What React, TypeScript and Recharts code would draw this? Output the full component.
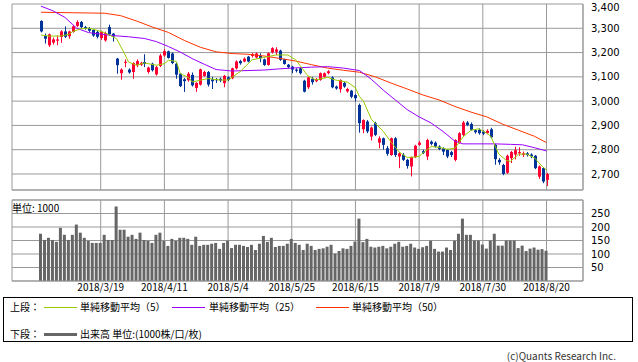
import React from 'react';
import { ComposedChart, Bar, Line, XAxis, YAxis, CartesianGrid, ReferenceLine } from 'recharts';

const tickIndices = [15, 31, 47, 63, 79, 95, 111, 127];
const tickLabels = ['2018/3/19', '2018/4/11', '2018/5/4', '2018/5/25', '2018/6/15', '2018/7/9', '2018/7/30', '2018/8/20'];
const priceTicks = [2700, 2800, 2900, 3000, 3100, 3200, 3300, 3400];
const volumeTicks = [50, 100, 150, 200, 250];

const opens = [
  3330,3268,3230,3241,3249,3264,3287,3267,3285,3310,
  3326,3305,3300,3293,3285,3260,3250,3305,3278,3175,
  3115,3158,3130,3120,3148,3150,3161,3120,3154,3110,
  3145,3188,3205,3196,3154,3113,3090,3086,3108,3054,
  3068,3104,3120,3090,3090,3092,3074,3098,3094,3135,
  3165,3163,3183,3186,3180,3186,3172,3149,3201,3203,
  3208,3172,3150,3142,3130,3135,3084,3057,3092,3082,
  3087,3100,3115,3098,3060,3049,3075,3040,3043,3025,
  2984,2884,2916,2854,2909,2829,2847,2806,2778,2847,
  2772,2779,2758,2731,2769,2820,2794,2772,2833,2829,
  2813,2806,2799,2790,2758,2829,2861,2912,2906,2880,
  2882,2875,2868,2884,2820,2758,2737,2705,2765,2780,
  2785,2778,2785,2780,2775,2689,2724,2676,
];
const closes = [
  3287,3257,3275,3254,3254,3287,3265,3287,3308,3326,
  3305,3298,3290,3270,3265,3285,3280,3275,3266,3148,
  3130,3162,3118,3157,3165,3158,3153,3138,3127,3140,
  3188,3206,3178,3157,3109,3062,3082,3113,3065,3075,
  3131,3120,3068,3082,3086,3085,3104,3087,3135,3163,
  3156,3175,3163,3193,3196,3177,3149,3197,3218,3213,
  3170,3153,3140,3130,3125,3115,3039,3098,3078,3090,
  3115,3115,3123,3057,3052,3087,3060,3050,3018,3012,
  2909,2922,2875,2891,2861,2847,2820,2783,2847,2778,
  2785,2758,2733,2769,2816,2829,2787,2840,2824,2813,
  2803,2792,2772,2778,2840,2868,2912,2902,2882,2872,
  2868,2866,2878,2851,2761,2748,2700,2775,2790,2798,
  2790,2785,2778,2772,2724,2731,2669,2700,
];
const highs = [
  3333,3278,3278,3262,3271,3292,3308,3290,3313,3333,
  3330,3310,3305,3296,3290,3290,3286,3315,3280,3178,
  3135,3172,3135,3160,3172,3162,3193,3142,3158,3145,
  3195,3215,3208,3201,3158,3116,3095,3120,3118,3078,
  3134,3125,3124,3100,3095,3097,3108,3102,3138,3168,
  3170,3180,3186,3198,3200,3197,3175,3200,3222,3222,
  3212,3175,3153,3145,3135,3138,3088,3100,3100,3095,
  3118,3118,3128,3102,3064,3090,3080,3055,3046,3030,
  2990,2925,2922,2895,2915,2855,2850,2815,2850,2852,
  2790,2786,2762,2772,2820,2836,2800,2845,2838,2834,
  2818,2810,2803,2795,2843,2872,2918,2918,2912,2885,
  2888,2880,2884,2890,2824,2765,2742,2780,2795,2812,
  2810,2792,2790,2785,2778,2735,2727,2705,
];
const lows = [
  3283,3237,3223,3233,3230,3240,3260,3257,3282,3305,
  3300,3294,3285,3265,3258,3252,3245,3270,3245,3113,
  3088,3140,3113,3092,3140,3145,3140,3113,3122,3105,
  3140,3183,3175,3152,3092,3058,3038,3080,3060,3038,
  3064,3100,3060,3050,3075,3078,3057,3082,3090,3130,
  3150,3160,3160,3180,3176,3160,3145,3146,3196,3190,
  3166,3150,3135,3115,3118,3110,3036,3050,3068,3078,
  3084,3096,3110,3053,3047,3035,3055,3035,3012,2998,
  2870,2868,2868,2838,2856,2806,2800,2775,2775,2770,
  2724,2754,2722,2690,2765,2816,2782,2757,2818,2808,
  2798,2778,2765,2770,2752,2825,2856,2897,2878,2866,
  2862,2860,2864,2846,2738,2738,2695,2700,2745,2760,
  2775,2770,2772,2765,2720,2680,2662,2650,
];
const volumes = [
  175,152,160,152,145,197,171,152,171,209,
  179,160,149,141,141,141,171,152,152,276,
  190,190,164,171,156,179,152,149,141,171,
  179,149,130,156,149,160,160,156,134,164,
  130,134,134,138,141,119,141,149,122,134,
  134,130,126,134,115,138,167,145,160,126,
  130,130,138,156,141,134,115,138,130,115,
  119,121,127,134,102,111,121,119,130,146,
  231,144,156,127,124,127,130,121,127,138,
  145,127,130,138,124,119,125,130,149,119,
  109,109,124,115,149,175,231,171,171,150,
  150,135,120,150,175,131,131,150,150,150,
  122,131,111,120,124,116,118,112,
];

const ma5Idx = [0,2,5,7,8,10,12,14,16,17,19,21,22,24,26,29,31,32,34,35,37,38,40,42,45,47,50,53,56,59,62,64,67,69,72,74,77,79,80,81,83,86,88,90,92,94,95,97,98,100,102,104,106,108,110,112,113,115,117,118,120,122,124,126,127];
const ma5Val = [3272,3268,3268,3275,3287,3298,3301,3292,3282,3274,3257,3195,3161,3148,3157,3148,3154,3168,3164,3113,3098,3079,3086,3093,3087,3087,3121,3170,3180,3190,3190,3170,3105,3087,3098,3087,3078,3055,3019,3000,2925,2875,2830,2790,2768,2770,2773,2800,2813,2810,2802,2806,2852,2880,2886,2868,2855,2782,2755,2752,2782,2782,2766,2730,2717];
const ma25Idx = [0,3,6,9,12,15,18,22,26,29,32,35,38,41,44,48,52,56,60,64,68,72,76,80,83,86,89,92,95,98,101,104,106,110,114,118,121,124,127];
const ma25Val = [3391,3372,3345,3300,3282,3276,3270,3265,3258,3245,3225,3202,3175,3152,3130,3124,3126,3128,3133,3137,3140,3142,3136,3126,3090,3045,3005,2965,2935,2910,2875,2835,2824,2824,2824,2822,2820,2808,2795];
const ma50Idx = [0,8,16,20,24,28,32,36,40,44,48,52,56,60,64,68,72,76,80,84,88,92,96,100,104,108,112,116,120,124,127];
const ma50Val = [3366,3364,3362,3352,3330,3305,3283,3250,3222,3203,3196,3193,3186,3176,3165,3150,3136,3127,3119,3100,3074,3050,3025,3005,2978,2955,2935,2905,2880,2855,2829];

const RED = '#ff0033';
const BLUE = '#003399';
const C5 = '#99cc00';
const C25 = '#9900ff';
const C50 = '#ff3300';
const GRID = '#999999';
const FONT = "'Noto Sans CJK JP', 'DejaVu Sans', sans-serif";
const NUMFONT = "'DejaVu Sans', sans-serif";

const lookup = (idx: number[], val: number[], i: number) => {
  const k = idx.indexOf(i);
  return k >= 0 ? val[k] : null;
};

const data = opens.map((o, i) => ({
  i,
  open: o,
  close: closes[i],
  high: highs[i],
  low: lows[i],
  range: [lows[i], highs[i]],
  volume: volumes[i],
  ma5: lookup(ma5Idx, ma5Val, i),
  ma25: lookup(ma25Idx, ma25Val, i),
  ma50: lookup(ma50Idx, ma50Val, i),
}));

const Candle = (props: any) => {
  const { x, y, width, height, payload } = props;
  if (!payload) return null;
  const { open, close, high, low } = payload;
  const color = close >= open ? RED : BLUE;
  const rng = high - low || 1;
  const py = (v: number) => y + ((high - v) / rng) * height;
  const cx = Math.round(x + width / 2) + 0.5;
  const top = py(Math.max(open, close));
  const bot = py(Math.min(open, close));
  return (
    <g>
      <line x1={cx} x2={cx} y1={y} y2={y + height} stroke={color} strokeWidth={1} />
      <rect x={cx - 1.5} y={top} width={3} height={Math.max(1, bot - top)} fill={color} />
    </g>
  );
};

const tickFmt = (v: any) => {
  const k = tickIndices.indexOf(Number(v));
  return k >= 0 ? tickLabels[k] : '';
};

const axisTick = { fontSize: 10, fill: '#000', fontFamily: FONT };

const PriceTick = (props: any) => {
  const { x, y, payload } = props;
  return (
    <text x={x} y={Math.max(y, 7)} dy="0.36em" textAnchor="start" fontSize={10} fill="#000" fontFamily={NUMFONT}>
      {Number(payload.value).toLocaleString('en-US')}
    </text>
  );
};

const VolTick = (props: any) => {
  const { x, y, payload } = props;
  return (
    <text x={x} y={y} dy="0.36em" textAnchor="start" fontSize={10} fill="#000" fontFamily={NUMFONT}>
      {payload.value}
    </text>
  );
};

export default function App() {
  return (
    <div style={{ position: 'fixed', left: 0, top: 0, width: 638, height: 362, background: '#fff', fontFamily: FONT, overflow: 'hidden' }}>
      <div style={{ position: 'absolute', left: 0, top: 0 }}>
        <ComposedChart width={638} height={195} data={data} margin={{ top: 4, right: 0, bottom: 5, left: 12 }} barCategoryGap={0}>
          <CartesianGrid stroke={GRID} strokeWidth={1} />
          <XAxis dataKey="i" hide ticks={tickIndices} interval={0} padding={{ left: 27, right: 34.5 }} />
          <YAxis orientation="right" domain={[2634, 3400]} ticks={priceTicks} interval={0} width={55}
            axisLine={{ stroke: GRID }} tickLine={false} tick={<PriceTick />} />
          <ReferenceLine y={2634} stroke={GRID} />
          <Bar dataKey="range" shape={Candle} isAnimationActive={false} />
          <Line dataKey="ma50" stroke={C50} strokeWidth={1} dot={false} connectNulls isAnimationActive={false} />
          <Line dataKey="ma25" stroke={C25} strokeWidth={1} dot={false} connectNulls isAnimationActive={false} />
          <Line dataKey="ma5" stroke={C5} strokeWidth={1} dot={false} connectNulls isAnimationActive={false} />
        </ComposedChart>
      </div>
      <div style={{ position: 'absolute', left: 0, top: 195 }}>
        <ComposedChart width={638} height={105} data={data} margin={{ top: 5, right: 0, bottom: 4, left: 12 }} barCategoryGap={0}>
          <CartesianGrid stroke={GRID} strokeWidth={1} />
          <XAxis dataKey="i" ticks={tickIndices} interval={0} padding={{ left: 27, right: 34.5 }} height={15}
            axisLine={{ stroke: GRID }} tickLine={false} tickSize={0} tickMargin={3} tick={axisTick} tickFormatter={tickFmt} />
          <YAxis orientation="right" domain={[0, 300]} ticks={volumeTicks} interval={0} width={55}
            axisLine={{ stroke: GRID }} tickLine={false} tick={<VolTick />} />
          <ReferenceLine y={300} stroke={GRID} />
          <Bar dataKey="volume" fill="#666666" barSize={3} isAnimationActive={false} />
        </ComposedChart>
      </div>
      <div style={{ position: 'absolute', left: 12, top: 202, fontSize: 10, lineHeight: '12px', color: '#000' }}>単位: 1000</div>
      <div style={{ position: 'absolute', left: 3, top: 297, width: 630, height: 45, border: '1px solid #000', boxSizing: 'border-box', fontSize: 10, color: '#000' }}>
        <div style={{ position: 'absolute', left: 6, top: 3, lineHeight: '12px', whiteSpace: 'nowrap' }}>上段：</div>
        <div style={{ position: 'absolute', left: 40, top: 9, width: 33, height: 1, background: C5 }} />
        <div style={{ position: 'absolute', left: 76, top: 3, lineHeight: '12px', whiteSpace: 'nowrap' }}>単純移動平均（5）</div>
        <div style={{ position: 'absolute', left: 168, top: 9, width: 33, height: 1, background: C25 }} />
        <div style={{ position: 'absolute', left: 205, top: 3, lineHeight: '12px', whiteSpace: 'nowrap' }}>単純移動平均（25）</div>
        <div style={{ position: 'absolute', left: 312, top: 9, width: 33, height: 1, background: C50 }} />
        <div style={{ position: 'absolute', left: 348, top: 3, lineHeight: '12px', whiteSpace: 'nowrap' }}>単純移動平均（50）</div>
        <div style={{ position: 'absolute', left: 6, top: 30, lineHeight: '12px', whiteSpace: 'nowrap' }}>下段：</div>
        <div style={{ position: 'absolute', left: 40, top: 35, width: 33, height: 3, background: '#666666' }} />
        <div style={{ position: 'absolute', left: 76, top: 30, lineHeight: '12px', whiteSpace: 'nowrap' }}>出来高 単位:(1000株/口/枚)</div>
      </div>
      <div style={{ position: 'absolute', right: 22, top: 350, fontSize: 10, lineHeight: '12px', color: '#333', whiteSpace: 'nowrap' }}>(c)Quants Research Inc.</div>
    </div>
  );
}
